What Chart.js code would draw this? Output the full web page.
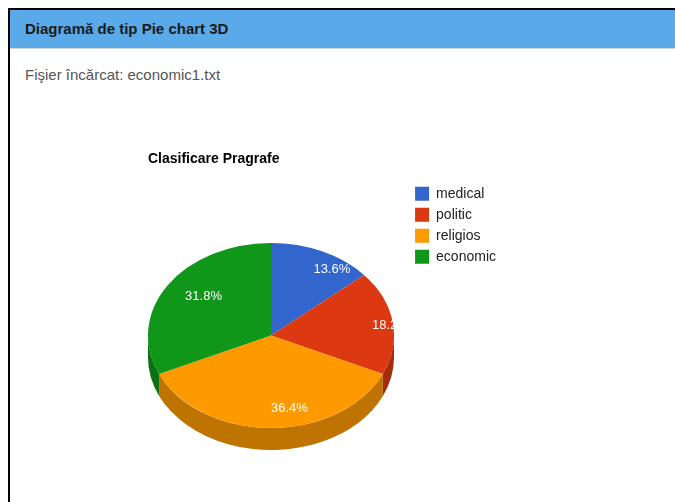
<!DOCTYPE html>
<html lang="ro">
<head>
<meta charset="utf-8">
<title>Diagramă de tip Pie chart 3D</title>
<script src="https://cdn.jsdelivr.net/npm/chart.js@4.4.1/dist/chart.umd.min.js"></script>
<style>
  body { margin: 0; background: #fff; overflow: hidden; font-family: Arial, "Liberation Sans", sans-serif; }
  .panel { position: absolute; left: 8px; top: 8px; width: 720px; height: 540px; border: 2px solid #000; }
  .panel-head { height: 38px; line-height: 38px; background: #5aa9e8; border-bottom: 1px solid #cfd8e0;
                padding-left: 15px; font-size: 15px; font-weight: bold; color: #1a1a1a; }
  .file-info { position: absolute; left: 15px; top: 56px; font-size: 15px; color: #555; }
  .chart-box { position: absolute; left: 138px; top: 130px; width: 358px; height: 312px; }
</style>
</head>
<body>
<div class="panel">
  <div class="panel-head">Diagramă de tip Pie chart 3D</div>
  <div class="file-info">Fişier încărcat: economic1.txt</div>
  <div class="chart-box"><canvas id="pieChart"></canvas></div>
</div>
<script>
// paragraph counts per category
const categories = ['medical', 'politic', 'religios', 'economic'];
const paragraphCounts = [3, 4, 8, 7];
const sliceColors = ['#3366cc', '#dc3912', '#ff9900', '#109618'];

const TILT = 0.752;     // vertical squash of the top face
const DEPTH = 22;       // side wall height in px
const LABEL_X = 0.83;   // label anchor, fraction of the radius
const LABEL_Y = 0.79;

function darken(hex, f) {
    const n = parseInt(hex.slice(1), 16);
    const r = Math.round((n >> 16) * f);
    const g = Math.round(((n >> 8) & 255) * f);
    const b = Math.round((n & 255) * f);
    return `rgb(${r}, ${g}, ${b})`;
}

// fakes the 3D look: squashes the pie, adds a rim below it and draws the % labels
const pie3d = {
    id: 'pie3d',
    beforeDatasetsDraw(chart) {
        const ctx = chart.ctx;
        const arcs = chart.getDatasetMeta(0).data;
        const r = arcs[0].outerRadius;
        const area = chart.chartArea;
        const ex = area.left + r;
        const ey = area.bottom - DEPTH - r * TILT;
        chart.$pie3d = { ex, ey, r };

        // front half of the rim only
        arcs.forEach((arc, i) => {
            const a0 = Math.max(arc.startAngle, 0);
            const a1 = Math.min(arc.endAngle, Math.PI);
            if (a1 <= a0) return;
            ctx.beginPath();
            ctx.ellipse(ex, ey, r, r * TILT, 0, a0, a1);
            ctx.ellipse(ex, ey + DEPTH, r, r * TILT, 0, a1, a0, true);
            ctx.closePath();
            ctx.fillStyle = darken(sliceColors[i], 0.75);
            ctx.fill();
        });

        ctx.save();
        ctx.translate(ex, ey);
        ctx.scale(1, TILT);
        ctx.translate(-arcs[0].x, -arcs[0].y);
    },
    afterDatasetsDraw(chart) {
        const ctx = chart.ctx;
        ctx.restore();

        const { ex, ey, r } = chart.$pie3d;
        const arcs = chart.getDatasetMeta(0).data;
        const total = paragraphCounts.reduce((a, b) => a + b, 0);
        ctx.save();
        ctx.font = '13px Arial, "Liberation Sans", sans-serif';
        ctx.fillStyle = '#fff';
        ctx.textAlign = 'left';
        ctx.textBaseline = 'middle';
        arcs.forEach((arc, i) => {
            const mid = (arc.startAngle + arc.endAngle) / 2;
            const x = ex + Math.cos(mid) * r * LABEL_X;
            const y = ey + Math.sin(mid) * r * TILT * LABEL_Y;
            const pct = (paragraphCounts[i] / total * 100).toFixed(1) + '%';
            ctx.fillText(pct, x, y);
        });
        ctx.restore();
    }
};

new Chart(document.getElementById('pieChart'), {
    type: 'pie',
    data: {
        labels: categories,
        datasets: [{
            data: paragraphCounts,
            backgroundColor: sliceColors,
            borderWidth: 0,
            radius: 123,
            clip: false
        }]
    },
    options: {
        responsive: true,
        maintainAspectRatio: false,
        animation: false,
        events: [],
        layout: { padding: { bottom: 2 } },
        plugins: {
            title: {
                display: true,
                text: 'Clasificare Pragrafe',
                align: 'start',
                color: '#000',
                font: { family: 'Arial, "Liberation Sans", sans-serif', size: 14, weight: 'bold' },
                padding: { top: 11, bottom: 12 }
            },
            legend: {
                position: 'right',
                align: 'start',
                fullSize: false,
                labels: {
                    boxWidth: 14,
                    boxHeight: 14,
                    padding: 7,
                    color: '#222',
                    font: { family: 'Arial, "Liberation Sans", sans-serif', size: 14 }
                }
            },
            tooltip: { enabled: false }
        }
    },
    plugins: [pie3d]
});
</script>
</body>
</html>
